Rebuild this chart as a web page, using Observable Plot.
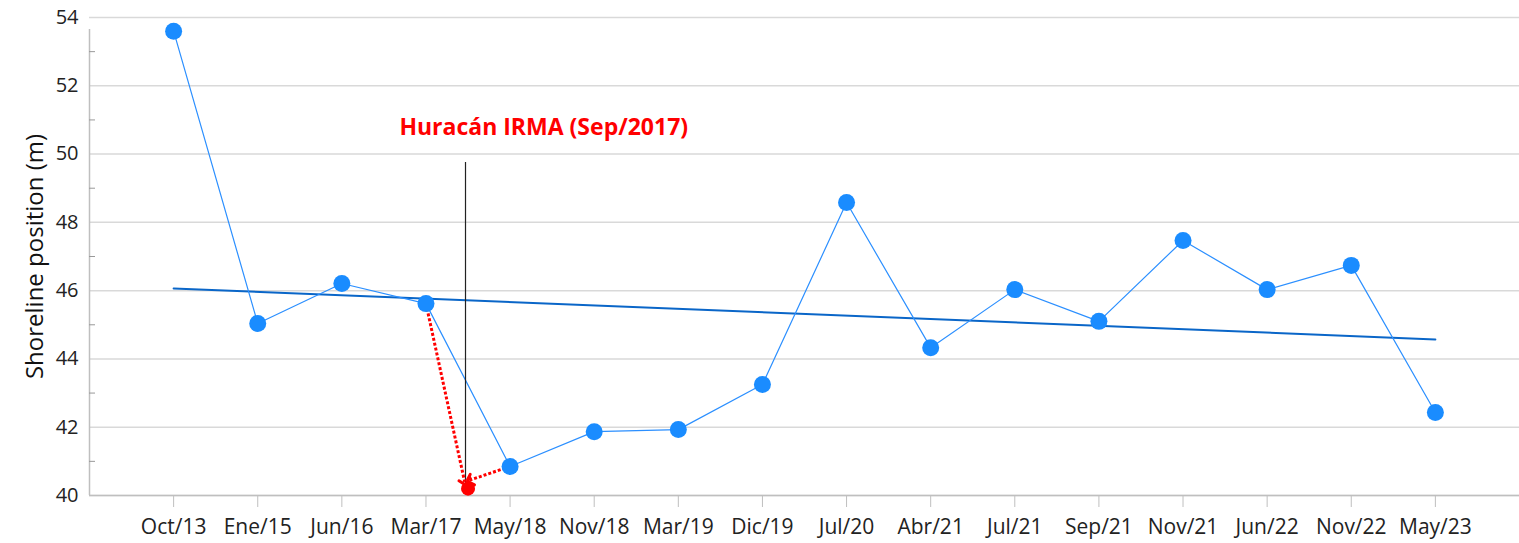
<!DOCTYPE html>
<html>
<head>
<meta charset="utf-8">
<script src="https://cdn.jsdelivr.net/npm/d3@7"></script>
<script src="https://cdn.jsdelivr.net/npm/@observablehq/plot@0.6"></script>
<style>
  html, body { margin: 0; padding: 0; background: #fff; }
  #chart svg { display: block; font-family: "Open Sans", sans-serif; }
</style>
</head>
<body>
<div id="chart"></div>
<script>
const dates = ["Oct/13","Ene/15","Jun/16","Mar/17","May/18","Nov/18","Mar/19","Dic/19","Jul/20","Abr/21","Jul/21","Sep/21","Nov/21","Jun/22","Nov/22","May/23"];
const shoreline = [53.6, 45.04, 46.21, 45.62, 40.85, 41.87, 41.93, 43.25, 48.58, 44.33, 46.03, 45.10, 47.47, 46.03, 46.74, 42.43];
const majorTicks = [40, 42, 44, 46, 48, 50, 52, 54];
const minorTicks = [41, 43, 45, 47, 49, 51, 53];
const eventLabel = "Huracán IRMA (Sep/2017)";
const eventX = 3.47;          // Sep/2017, between Mar/17 and May/18 (index units)
const eventLineTop = 49.75;
const eventPoint = {x: 3.5, y: 40.2};
const labelPos = {x: 4.4, y: 50.78};

const data = dates.map((d, i) => ({i, date: d, value: shoreline[i]}));
const arrows = [
  {x1: 3, y1: shoreline[3], x2: 3.46, y2: 40.4},
  {x1: 4, y1: shoreline[4], x2: 3.52, y2: 40.45}
];

const chart = Plot.plot({
  width: 1519,
  height: 543,
  marginLeft: 89,
  marginRight: 0,
  marginTop: 17,
  marginBottom: 48,
  x: {type: "linear", domain: [-1, 16]},
  y: {domain: [40, 54]},
  marks: [
    Plot.ruleY(majorTicks, {stroke: "#d9d9d9", strokeWidth: 1.5}),
    Plot.ruleX([-1], {y1: 40, y2: 54, stroke: "#bfbfbf", strokeWidth: 1.5, insetBottom: -12}),
    Plot.ruleY([40], {stroke: "#bfbfbf", strokeWidth: 1.5}),
    Plot.axisY({ticks: minorTicks, tickSize: -6, text: null, stroke: "#999", label: null}),
    Plot.axisY({ticks: majorTicks, tickSize: 0, tickPadding: 11, fontSize: 20, fill: "#222", label: null}),
    Plot.text(["Shoreline position (m)"], {frameAnchor: "left", textAnchor: "middle", rotate: -90, dx: -54, fontSize: 24, fill: "#111"}),
    Plot.axisX({ticks: d3.range(16), tickSize: 12, text: null, stroke: "#bfbfbf", label: null}),
    Plot.axisX({ticks: d3.range(16), tickSize: 0, tickPadding: 24, tickFormat: i => dates[i], fontSize: 21, fill: "#222", label: null}),
    Plot.linearRegressionY(data, {x: "i", y: "value", ci: 0, stroke: "#0a66c8", strokeWidth: 2}),
    Plot.line(data, {x: "i", y: "value", stroke: "#2b8fff", strokeWidth: 1.2}),
    Plot.ruleX([eventX], {y1: 40.3, y2: eventLineTop, stroke: "#222", strokeWidth: 1.2}),
    Plot.link(arrows, {x1: "x1", y1: "y1", x2: "x2", y2: "y2", stroke: "red", strokeWidth: 3, strokeDasharray: "3,2", markerEnd: "arrow"}),
    Plot.dot(data, {x: "i", y: "value", r: 8.5, fill: "#1a8cff"}),
    Plot.dot([eventPoint], {x: "x", y: "y", r: 7, fill: "red"}),
    Plot.text([eventLabel], {x: () => labelPos.x, y: () => labelPos.y, fill: "red", fontSize: 23, fontWeight: "bold"})
  ]
});
document.getElementById("chart").appendChild(chart);
</script>
</body>
</html>
